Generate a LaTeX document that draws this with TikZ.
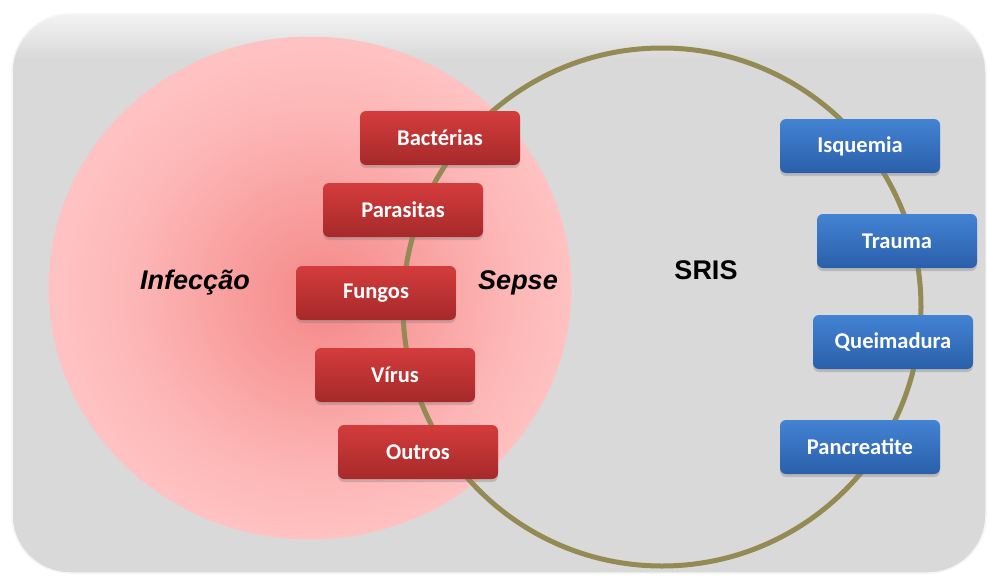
\documentclass[tikz,border=0pt]{standalone}
\usepackage{fontspec}
\setmainfont{Liberation Sans}
\newfontfamily\boxfont{Carlito}
\usetikzlibrary{shadows}

\definecolor{panel}{HTML}{D9D9D9}
\definecolor{panelTop}{HTML}{F3F3F3}
\definecolor{infC}{HTML}{F58888}
\definecolor{infM}{HTML}{F9A1A1}
\definecolor{infN}{HTML}{FDB6B6}
\definecolor{infE}{HTML}{FFC2C2}
\definecolor{srisRing}{HTML}{948A54}
\definecolor{redTop}{HTML}{D43C3C}
\definecolor{redBot}{HTML}{A6292A}
\definecolor{blueTop}{HTML}{4383D3}
\definecolor{blueBot}{HTML}{2A5FAA}

% panel: flat grey with a light band along the top edge
\pgfdeclareverticalshading{panelshade}{100bp}{%
  color(0bp)=(panel); color(25bp)=(panel); color(71bp)=(panel);
  color(75bp)=(panelTop); color(100bp)=(panelTop)}
% infection disc: deep salmon core fading to pale pink
\pgfdeclareradialshading{infshade}{\pgfpoint{1.5bp}{-1bp}}{%
  color(0bp)=(infC); color(10bp)=(infM); color(18bp)=(infN);
  color(25bp)=(infE); color(50bp)=(infE)}

\tikzset{
  causebox/.style={rounded corners=6pt, minimum width=160pt, minimum height=54pt,
    text=white, font=\boxfont\bfseries\fontsize{22.5}{26}\selectfont,
    drop shadow={opacity=0.35, shadow xshift=0pt, shadow yshift=-3pt}},
  infbox/.style={causebox, top color=redTop, bottom color=redBot},
  srisbox/.style={causebox, top color=blueTop, bottom color=blueBot},
  venntext/.style={font=\bfseries\fontsize{27}{30}\selectfont, text=black},
  ring/.style={draw=srisRing, line width=5pt},
}

\begin{document}
\begin{tikzpicture}[x=1pt,y=-1pt]
  \useasboundingbox (0,0) rectangle (989,576);

  % background panel
  \path[shading=panelshade, draw=white!92!gray, line width=1.5pt,
        rounded corners=58pt] (12,14) rectangle (986,573);

  % infection disc and SIRS ring
  \path[shading=infshade, draw=infE, line width=0.8pt]
    (310,288) ellipse [x radius=261, y radius=251];
  \draw[ring] (662,307) circle [radius=259];

  % infectious agents
  \node[infbox] (bact)   at (440,138) {Bactérias};
  \node[infbox] (paras)  at (403,210) {Parasitas};
  \node[infbox] (fung)   at (376,293) {Fungos};
  \node[infbox] (virus)  at (395,375) {Vírus};
  \node[infbox] (outros) at (418,452) {Outros};

  % non-infectious triggers
  \node[srisbox] (isq)    at (860,146) {Isquemia};
  \node[srisbox] (trauma) at (897,241) {Trauma};
  \node[srisbox] (queim)  at (893,342) {Queimadura};
  \node[srisbox] (panc)   at (860,447) {Pancreatite};

  % set labels
  \node[venntext, font=\bfseries\itshape\fontsize{27}{30}\selectfont] (inf) at (195,283) {Infecção};
  \node[venntext, font=\bfseries\itshape\fontsize{27}{30}\selectfont] (sepse) at (518,283) {Sepse};
  \node[venntext] (sris) at (706,270) {SRIS};
\end{tikzpicture}
\end{document}
